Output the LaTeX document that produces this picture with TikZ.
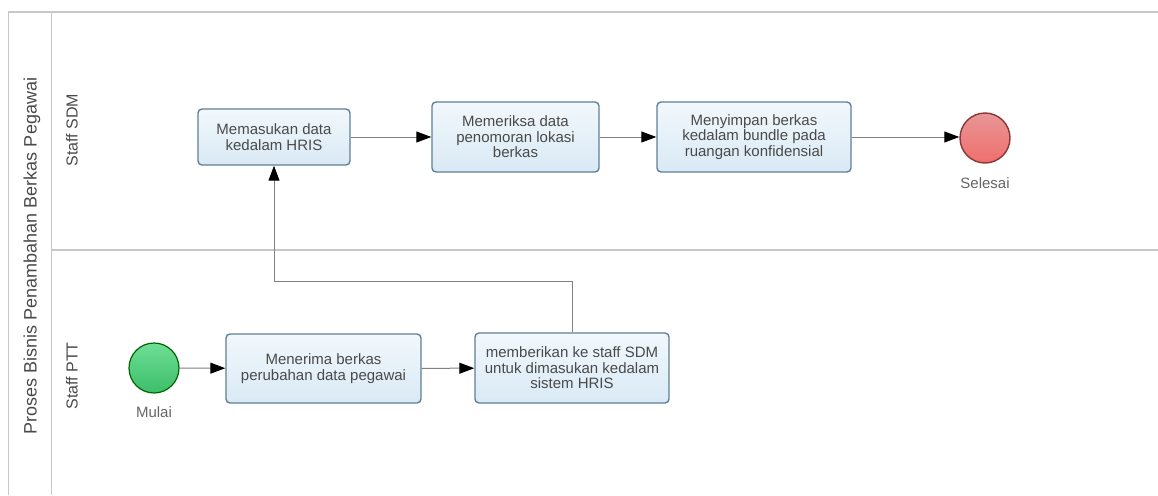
\documentclass[tikz,border=0pt]{standalone}
\usepackage{fontspec}
\setmainfont{Liberation Sans}
\usetikzlibrary{arrows.meta}
\definecolor{framegray}{HTML}{C8C8C8}
\definecolor{linegray}{HTML}{808080}
\definecolor{textgray}{HTML}{4A4A4A}
\definecolor{boxedge}{HTML}{5F8097}
\definecolor{boxtop}{HTML}{F2F8FC}
\definecolor{boxbottom}{HTML}{D9E9F5}
\colorlet{frame}{framegray}

\tikzset{
    lanebox/.style={draw=frame, line width=1.5},
    lanelabel/.style={rotate=90, text=textgray, font=\fontsize{16}{18}\selectfont},
    task/.style={draw=boxedge, line width=1.4, rounded corners=4, top color=boxtop,
        bottom color=boxbottom, text=textgray, align=center, inner sep=0,
        font=\fontsize{15}{15.5}\selectfont},
    startevent/.style={circle, draw=green!40!black, line width=1.2, minimum size=50,
        top color={rgb,255:red,110;green,222;blue,150}, bottom color={rgb,255:red,60;green,190;blue,105}},
    endevent/.style={circle, draw={rgb,255:red,140;green,55;blue,55}, line width=1.4, minimum size=50,
        top color={rgb,255:red,232;green,150;blue,150}, bottom color={rgb,255:red,240;green,110;blue,110}},
    eventlabel/.style={text=textgray!85, font=\fontsize{15}{17}\selectfont},
    flow/.style={draw=linegray, line width=1, -{Triangle[length=15,width=11,color=black]}}
}

\begin{document}
\begin{tikzpicture}[x=1pt,y=-1pt]
        \useasboundingbox (0,0) rectangle (1158,495);
        % pool and lanes
        \draw[lanebox] (1158,12) -- (8.5,12) -- (8.5,495);
        \draw[lanebox] (51.5,12) -- (51.5,495);
        \draw[lanebox] (51.5,250) -- (1158,250);
        \node[lanelabel, font=\fontsize{18}{20}\selectfont] (pool) at (32,256) {Proses Bisnis Penambahan Berkas Pegawai};
        \node[lanelabel] (sdm) at (72,130) {Staff SDM};
        \node[lanelabel] (ptt) at (72,376) {Staff PTT};

        % Staff PTT
        \node[startevent] (mulai) at (154,368) {};
        \node[eventlabel] (mulailbl) at (154,412) {Mulai};
        \node[task, minimum width=195, minimum height=69] (terima) at (323.5,368.5) {Menerima berkas\\perubahan data pegawai};
        \node[task, minimum width=194, minimum height=70] (beri) at (572,368) {memberikan ke staff SDM\\untuk dimasukan kedalam\\sistem HRIS};

        % Staff SDM
        \node[task, minimum width=152, minimum height=56] (masuk) at (274,137) {Memasukan data\\kedalam HRIS};
        \node[task, minimum width=167, minimum height=70] (periksa) at (515.5,137) {Memeriksa data\\penomoran lokasi\\berkas};
        \node[task, minimum width=194, minimum height=70] (simpan) at (754,137) {Menyimpan berkas\\kedalam bundle pada\\ruangan konfidensial};
        \node[endevent] (selesai) at (985,138) {};
        \node[eventlabel] (selesailbl) at (985,183) {Selesai};

        % connectors
        \draw[flow] (mulai) -- (terima);
        \draw[flow] (terima) -- (beri);
        \draw[flow] (beri.north) -- ++(0,-51) -| (masuk.south);
        \draw[flow] (masuk) -- (periksa);
        \draw[flow] (periksa) -- (simpan);
        \draw[flow] (simpan.east) -- (selesai.west |- simpan.east);
    \end{tikzpicture}
\end{document}
